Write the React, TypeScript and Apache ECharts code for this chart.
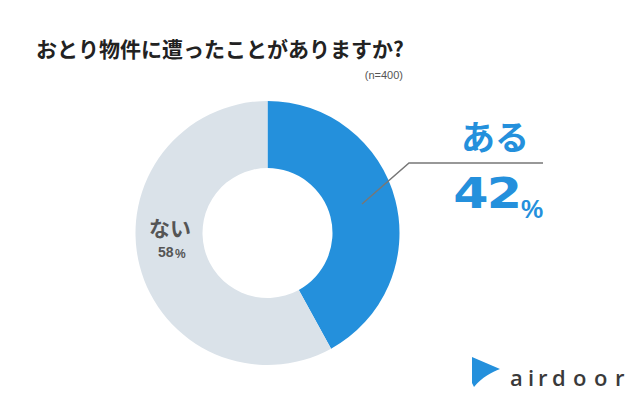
import React, { useEffect, useRef } from "react";
import * as echarts from "echarts";

const categories = ["ある", "ない"];
const values = [42, 58];
const colors = ["#2490DC", "#DAE2E9"];
const title = "おとり物件に遭ったことがありますか?";
const sampleNote = "(n=400)";
const logoText = "airdoor";

const JP = '"Noto Sans CJK JP", "Noto Sans", sans-serif';
const LS = '"Liberation Sans", Arial, sans-serif';

echarts.graphic.registerShape(
  "airdoorFlag",
  echarts.graphic.extendPath(
    "M0,0 L28,12 C20,15 10,20 2,30 L0,26 Z",
    {}
  ) as any
);

export default function App() {
  const ref = useRef<HTMLDivElement>(null);
  useEffect(() => {
    if (!ref.current) return;
    const chart = echarts.init(ref.current, undefined, { renderer: "svg" });
    const letterX = [510, 528, 538, 552, 573, 594, 615];
    const bigDigits = String(values[0]).split("");
    const bigDigitX = [471, 504.5];
    chart.setOption({
      animation: false,
      backgroundColor: "#ffffff",
      series: [
        {
          type: "pie",
          z: 1,
          center: [267.5, 233],
          radius: [65, 132],
          startAngle: 90,
          clockwise: true,
          silent: true,
          label: { show: false },
          labelLine: { show: false },
          data: categories.map((c, i) => ({
            name: c,
            value: values[i],
            itemStyle: { color: colors[i] },
          })),
        },
      ],
      graphic: {
        elements: [
          {
            type: "text",
            z: 100,
            left: 36,
            top: 37,
            style: {
              text: title,
              font: `bold 21px ${JP}`,
              fill: "#222222",
            },
          },
          {
            type: "text",
            z: 100,
            right: 237,
            top: 69,
            style: {
              text: sampleNote,
              font: `11px ${LS}`,
              fill: "#555555",
            },
          },
          {
            type: "polyline",
            z: 100,
            shape: { points: [[362, 204], [409, 163], [543, 163]] },
            style: { stroke: "#777777", lineWidth: 1.5, fill: "none" },
          },
          {
            type: "text",
            z: 100,
            x: 495,
            y: 135,
            style: {
              text: categories[0],
              font: `bold 34px ${JP}`,
              fill: colors[0],
              align: "center",
              verticalAlign: "middle",
            },
          },
          ...bigDigits.map((d, i) => ({
            type: "text",
            z: 100,
            x: bigDigitX[i] ?? 471 + i * 33.5,
            y: 193,
            scaleX: 1.18,
            style: {
              text: d,
              font: '900 43px "DejaVu Sans", sans-serif',
              fill: colors[0],
              align: "center",
              verticalAlign: "middle",
            },
          })),
          {
            type: "text",
            z: 100,
            x: 521,
            y: 208.5,
            style: {
              text: "%",
              font: `bold 25px ${LS}`,
              fill: colors[0],
              align: "left",
              verticalAlign: "middle",
            },
          },
          {
            type: "text",
            z: 100,
            x: 170,
            y: 227,
            style: {
              text: categories[1],
              font: `bold 21px ${JP}`,
              fill: "#555555",
              align: "center",
              verticalAlign: "middle",
            },
          },
          {
            type: "text",
            z: 100,
            x: 158,
            y: 252,
            style: {
              text: String(values[1]),
              font: `bold 14px ${LS}`,
              fill: "#555555",
              align: "left",
              verticalAlign: "middle",
            },
          },
          {
            type: "text",
            z: 100,
            x: 175,
            y: 254,
            style: {
              text: "%",
              font: `bold 12px ${LS}`,
              fill: "#555555",
              align: "left",
              verticalAlign: "middle",
            },
          },
          {
            type: "airdoorFlag",
            z: 100,
            x: 472,
            y: 357,
            style: { fill: "#2490DC" },
          },
          ...logoText.split("").map((ch, i) => ({
            type: "text",
            z: 100,
            x: letterX[i],
            y: 376.5,
            style: {
              text: ch,
              font: '600 22px "Open Sans", sans-serif',
              fill: "#3a3a3a",
              align: "left",
              verticalAlign: "middle",
            },
          })),
        ],
      },
    });
    return () => chart.dispose();
  }, []);
  return (
    <div
      ref={ref}
      style={{ position: "fixed", left: 0, top: 0, width: 640, height: 396 }}
    />
  );
}
